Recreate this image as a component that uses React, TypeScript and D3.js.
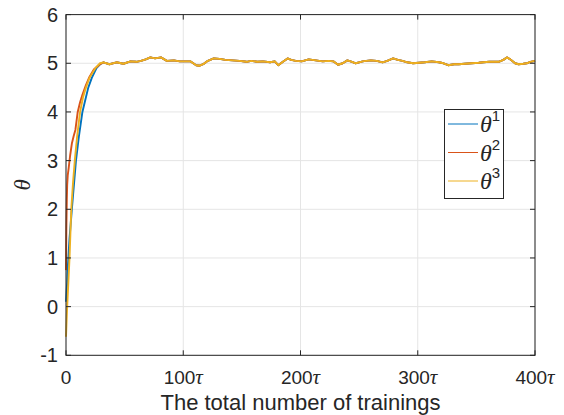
import React from "react";
import * as d3 from "d3";

// Rising phase (t, theta) per series
const riseT1 = [0, 0.5, 1, 1.5, 2, 3, 5, 8.5, 11, 14, 17, 19, 22, 26, 29];
const riseV1 = [0.1, 0.3, 0.5, 0.8, 1.0, 1.4, 2.0, 3.0, 3.5, 4.0, 4.3, 4.5, 4.7, 4.9, 4.98];
const riseT2 = [0, 0.3, 0.7, 1, 1.5, 2.3, 3.5, 5, 6.5, 8, 10, 12, 14, 17, 20, 24, 29];
const riseV2 = [0.75, 1.6, 2.2, 2.5, 2.7, 2.85, 3.1, 3.35, 3.5, 3.63, 4.0, 4.2, 4.35, 4.55, 4.72, 4.88, 4.98];
const riseT3 = [0, 0.5, 1, 2, 3, 4.5, 6, 7.5, 9.5, 12, 14.5, 17, 20, 25, 29];
const riseV3 = [-0.62, -0.3, 0.0, 0.5, 1.0, 2.0, 2.55, 3.0, 3.5, 4.0, 4.3, 4.5, 4.7, 4.9, 5.0];

// Steady phase shared by all series
const steadyT = [32, 37, 43, 49, 55, 60, 64, 68, 72, 76, 81, 86, 92, 97, 101, 106, 111, 114, 117, 121, 126, 131, 136, 142, 148, 154, 158, 163, 168, 174, 178, 181, 185, 189, 192, 196, 201, 207, 213, 219, 224, 228, 232, 236, 240, 244, 247, 250, 253, 256, 260, 265, 270, 274, 279, 283, 287, 291, 296, 301, 306, 312, 318, 322, 326, 331, 335, 340, 346, 352, 356, 361, 365, 369, 373, 376, 379, 383, 386, 390, 393, 396, 400];
const steadyV = [5.02, 4.98, 5.02, 4.99, 5.04, 5.03, 5.05, 5.08, 5.12, 5.10, 5.12, 5.05, 5.06, 5.04, 5.04, 5.04, 4.96, 4.95, 4.98, 5.05, 5.10, 5.09, 5.07, 5.06, 5.05, 5.03, 5.05, 5.03, 5.04, 5.02, 5.04, 4.96, 5.03, 5.10, 5.07, 5.05, 5.04, 5.08, 5.06, 5.04, 5.05, 5.04, 4.97, 5.00, 5.06, 5.03, 5.00, 5.02, 5.04, 5.05, 5.06, 5.05, 5.02, 5.05, 5.10, 5.07, 5.05, 5.02, 5.00, 5.01, 5.02, 5.04, 5.02, 5.00, 4.96, 4.98, 4.98, 4.99, 5.00, 5.01, 5.02, 5.03, 5.03, 5.03, 5.07, 5.12, 5.08, 5.00, 4.98, 4.99, 5.00, 5.03, 5.05];

const xTicks = [0, 100, 200, 300, 400];
const xTickLabels = ["0", "100", "200", "300", "400"];
const yTicks = [-1, 0, 1, 2, 3, 4, 5, 6];
const seriesNames = ["1", "2", "3"];
const colors = ["#0072BD", "#D95319", "#EDB120"];

const W = 564, H = 415;
const L = 66, R = 535, T = 14.6, B = 355.3;
const font = "'Liberation Sans', Arial, Helvetica, sans-serif";
const serif = "'Liberation Serif', 'Times New Roman', serif";
const axisColor = "#262626";

export default function App() {
  const x = d3.scaleLinear().domain([0, 400]).range([L, R]);
  const y = d3.scaleLinear().domain([-1, 6]).range([B, T]);
  const line = d3.line<[number, number]>().x(d => x(d[0])).y(d => y(d[1]));
  const mk = (tt: number[], vv: number[]) => {
    const pts: [number, number][] = tt.map((t, i) => [t, vv[i]]);
    steadyT.forEach((t, i) => pts.push([t, steadyV[i]]));
    return pts;
  };
  const series = [mk(riseT1, riseV1), mk(riseT2, riseV2), mk(riseT3, riseV3)];
  const tickLen = 5;
  return (
    <svg width={W} height={H} style={{ position: "absolute", left: 0, top: 0, background: "#fff" }}>
      <rect x={0} y={0} width={W} height={H} fill="#fff" />
      {xTicks.map(t => (
        <line key={"gx" + t} x1={x(t)} x2={x(t)} y1={T} y2={B} stroke="#e5e5e5" strokeWidth={1} />
      ))}
      {yTicks.map(t => (
        <line key={"gy" + t} x1={L} x2={R} y1={y(t)} y2={y(t)} stroke="#e5e5e5" strokeWidth={1} />
      ))}
      {series.map((s, i) => (
        <path key={i} d={line(s) || ""} fill="none" stroke={colors[i]} strokeWidth={1.9} strokeLinejoin="round" />
      ))}
      <rect x={L} y={T} width={R - L} height={B - T} fill="none" stroke={axisColor} strokeWidth={1} />
      {xTicks.map(t => (
        <g key={"tx" + t}>
          <line x1={x(t)} x2={x(t)} y1={B} y2={B - tickLen} stroke={axisColor} />
          <line x1={x(t)} x2={x(t)} y1={T} y2={T + tickLen} stroke={axisColor} />
        </g>
      ))}
      {yTicks.map(t => (
        <g key={"ty" + t}>
          <line x1={L} x2={L + tickLen} y1={y(t)} y2={y(t)} stroke={axisColor} />
          <line x1={R} x2={R - tickLen} y1={y(t)} y2={y(t)} stroke={axisColor} />
        </g>
      ))}
      {xTicks.map((t, i) => (
        <text key={"lx" + t} x={x(t)} y={B + 29} textAnchor="middle" fontFamily={font} fontSize={19} fill={axisColor}>
          {xTickLabels[i]}
          {t !== 0 && <tspan fontFamily={serif} fontStyle="italic" fontSize={21}>τ</tspan>}
        </text>
      ))}
      {yTicks.map(t => (
        <text key={"ly" + t} x={L - 8} y={y(t) + 7} textAnchor="end" fontFamily={font} fontSize={20} fill={axisColor}>
          {t < 0 ? "-" + Math.abs(t) : String(t)}
        </text>
      ))}
      <text x={(L + R) / 2} y={410} textAnchor="middle" fontFamily={font} fontSize={22} fill={axisColor}>
        The total number of trainings
      </text>
      <text transform={`translate(30,${(T + B) / 2}) rotate(-90)`} textAnchor="middle" fontFamily={serif} fontStyle="italic" fontSize={23} fill={axisColor}>
        θ
      </text>
      <rect x={444.5} y={109.5} width={59} height={89} fill="#fff" stroke={axisColor} strokeWidth={1} />
      {seriesNames.map((n, i) => {
        const cy = 124 + i * 28.5;
        return (
          <g key={"lg" + n}>
            <line x1={448} x2={478} y1={cy} y2={cy} stroke={colors[i]} strokeWidth={1} />
            <text x={480} y={cy + 8} fontFamily={serif} fontStyle="italic" fontSize={24} fill={axisColor}>
              θ
              <tspan fontFamily={font} fontStyle="normal" fontSize={15} dy={-11}>{n}</tspan>
            </text>
          </g>
        );
      })}
    </svg>
  );
}
